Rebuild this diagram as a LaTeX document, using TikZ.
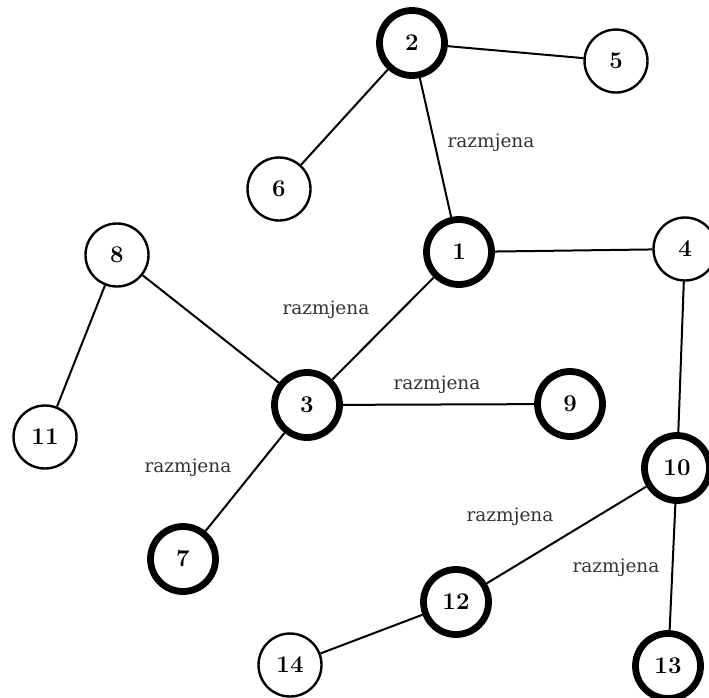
\documentclass[tikz,border=0pt]{standalone}
\usepackage{fontspec}
\newfontfamily\oznakafont{DejaVu Serif}
\usepackage{tikz}

\begin{document}
\begin{tikzpicture}[x=1pt, y=-1pt,
  vrh/.style={draw, circle, line width=2.4pt, minimum size=63pt, inner sep=0pt, font=\fontsize{24}{24}\selectfont\bfseries},
  jaki/.style={vrh, line width=6.8pt, minimum size=65pt},
  oznaka/.style={text=black!80, font=\oznakafont\fontsize{18.5}{18.5}\selectfont},
  veza/.style={line width=2pt}]
\useasboundingbox (0,0) rectangle (709,697);
%
             \node [jaki] at (412,43) (2) {2};
             \node [vrh] at (616,61) (5) {5};
             \node [vrh] at (279,189) (6) {6};
             \node [jaki] at (459,252) (1) {1};
             \node [vrh] at (685,249) (4) {4};
             \node [vrh] at (117,255) (8) {8};
             \node [jaki] at (307,405) (3) {3};
             \node [jaki] at (570,404) (9) {9};
             \node [vrh] at (45,437) (11) {11};
             \node [jaki] at (677,468) (10) {10};
             \node [jaki] at (183,559) (7) {7};
             \node [jaki] at (456,602) (12) {12};
             \node [vrh] at (290,665) (14) {14};
             \node [jaki] at (668,666) (13) {13};
%
             \node [oznaka] at (491,143) (r21) {razmjena};
             \node [oznaka] at (326,310) (r13) {razmjena};
             \node [oznaka] at (437,385) (r39) {razmjena};
             \node [oznaka] at (188,468) (r37) {razmjena};
             \node [oznaka] at (510,517) (r1012) {razmjena};
             \node [oznaka] at (616,568) (r1013) {razmjena};
%
\draw[veza] (2)--(5);
\draw[veza] (2)--(6);
\draw[veza] (2)--(1);
\draw[veza] (1)--(4);
\draw[veza] (1)--(3);
\draw[veza] (8)--(3);
\draw[veza] (8)--(11);
\draw[veza] (3)--(9);
\draw[veza] (3)--(7);
\draw[veza] (4)--(10);
\draw[veza] (10)--(12);
\draw[veza] (10)--(13);
\draw[veza] (12)--(14);
\end{tikzpicture}
\end{document}
